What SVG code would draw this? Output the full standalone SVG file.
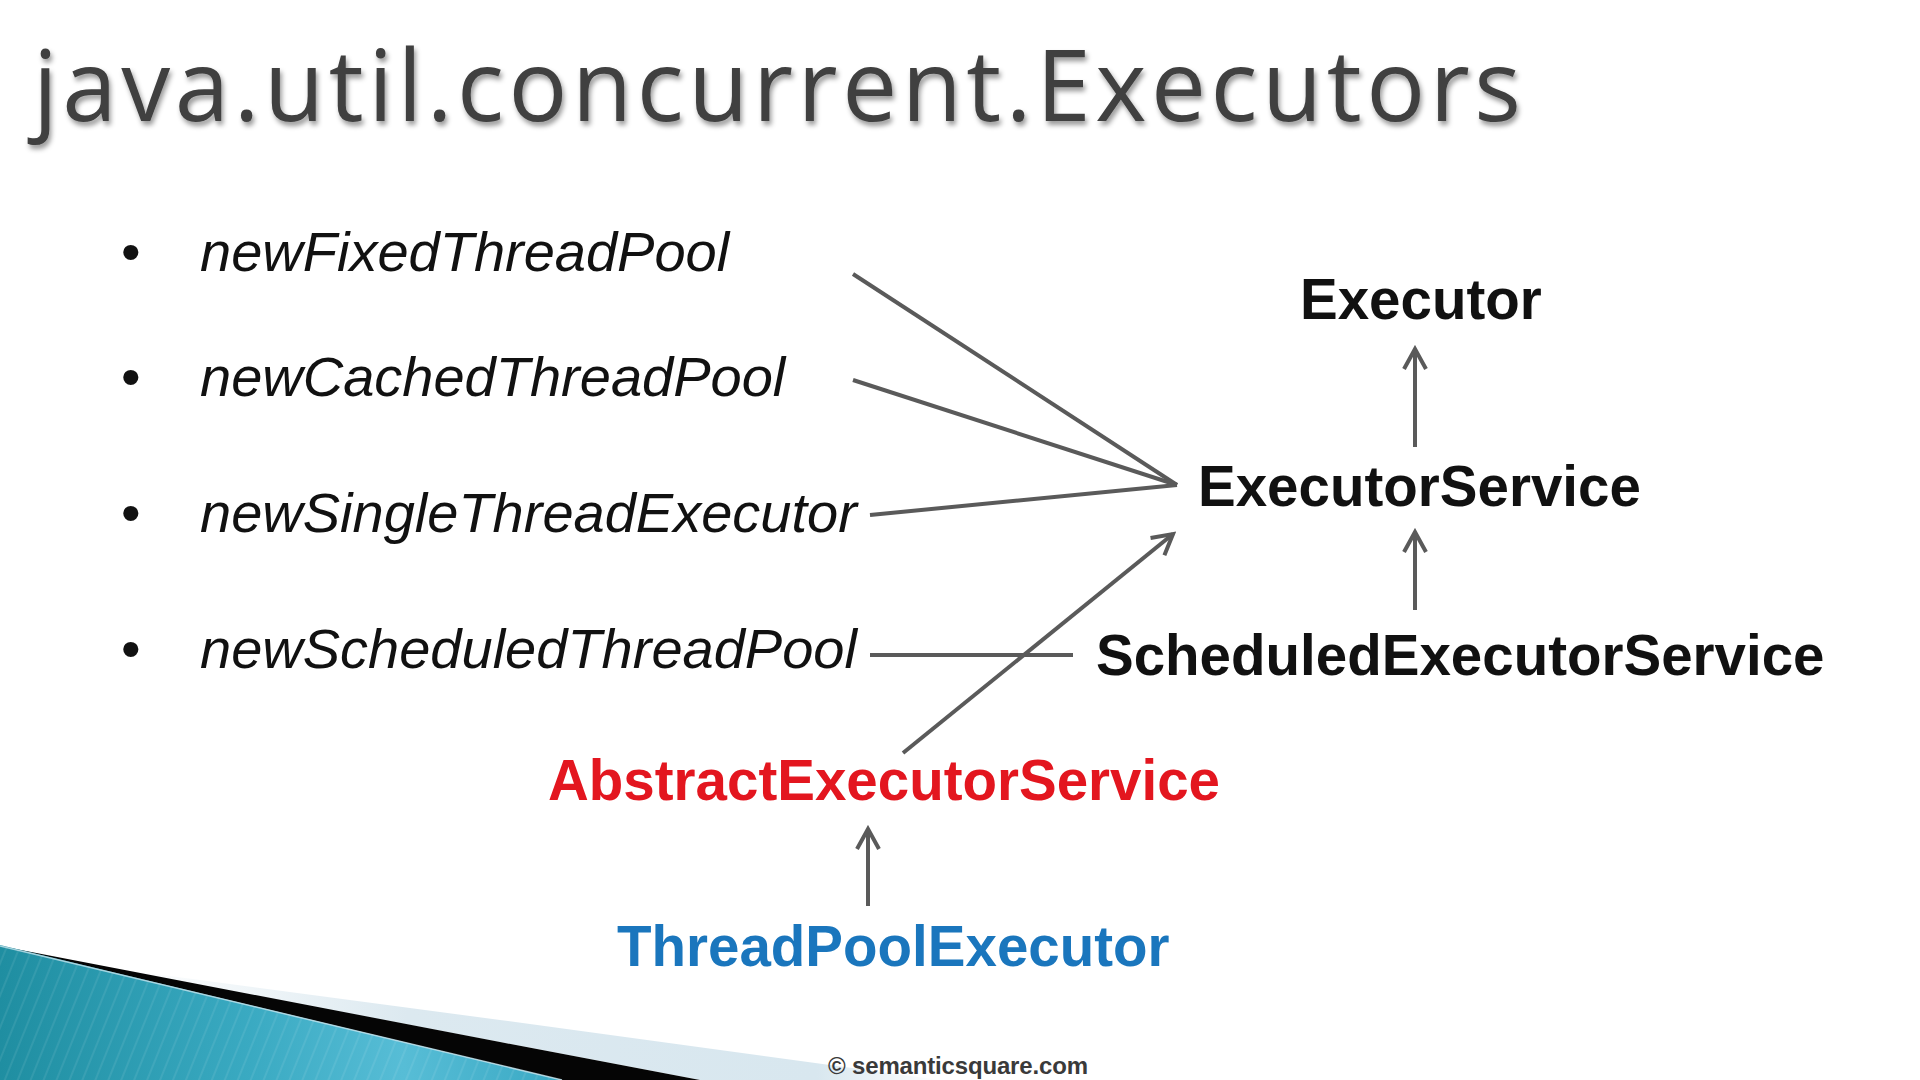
<svg xmlns="http://www.w3.org/2000/svg" width="1920" height="1080" viewBox="0 0 1920 1080">
  <defs>
    <style>
      .title { font-family: "Open Sans", "Noto Sans", "DejaVu Sans", sans-serif; font-size: 98px; fill: #404040; }
      .item { font-family: "Liberation Sans", Arial, sans-serif; font-size: 56px; font-style: italic; fill: #111111; }
      .bullet { font-family: "Liberation Sans", Arial, sans-serif; font-size: 56px; fill: #111111; }
      .cls { font-family: "Liberation Sans", Arial, sans-serif; font-size: 56.5px; font-weight: bold; fill: #111111; }
      .abstract { fill: #e3161f; }
      .impl { fill: #1a76bd; }
      .credit { font-family: "Liberation Sans", Arial, sans-serif; font-size: 24px; font-weight: bold; fill: #3a3a3a; }
      .link { stroke: #5a5a5a; stroke-width: 4; fill: none; }
      .arrow { stroke: #5a5a5a; stroke-width: 4; fill: none; marker-end: url(#openHead); }
    </style>
    <filter id="titleShadow" x="-5%" y="-30%" width="110%" height="160%">
      <feDropShadow dx="2" dy="4" stdDeviation="2.5" flood-color="#000000" flood-opacity="0.4"/>
    </filter>
    <marker id="openHead" markerUnits="userSpaceOnUse" viewBox="-24 -14 28 28" refX="0" refY="0" markerWidth="28" markerHeight="28" orient="auto">
      <path d="M-20,-11 L0,0 L-20,11" stroke="#5a5a5a" stroke-width="4" fill="none" stroke-linejoin="miter"/>
    </marker>
    <linearGradient id="tealFill" x1="0" y1="0" x2="560" y2="0" gradientUnits="userSpaceOnUse">
      <stop offset="0" stop-color="#1f8ea1"/>
      <stop offset="0.45" stop-color="#3aaac2"/>
      <stop offset="0.72" stop-color="#57bdd6"/>
      <stop offset="1" stop-color="#3aa9c4"/>
    </linearGradient>
    <linearGradient id="paleBand" x1="120" y1="0" x2="940" y2="0" gradientUnits="userSpaceOnUse">
      <stop offset="0" stop-color="#ffffff"/>
      <stop offset="0.35" stop-color="#dce9f0"/>
      <stop offset="0.85" stop-color="#d8e7ef"/>
      <stop offset="1" stop-color="#ffffff"/>
    </linearGradient>
    <pattern id="tealStripes" patternUnits="userSpaceOnUse" width="12" height="12" patternTransform="rotate(22)">
      <rect x="0" y="0" width="2" height="12" fill="#ffffff" opacity="0.08"/>
    </pattern>
  </defs>

  <rect x="0" y="0" width="1920" height="1080" fill="#ffffff"/>

  <!-- corner swoosh -->
  <g id="corner">
    <polygon points="110,968 500,1020 940,1080 700,1080" fill="url(#paleBand)"/>
    <polygon points="0,946 500,1042 700,1080 562,1080" fill="#050505"/>
    <polygon points="0,945 562,1080 0,1080" fill="url(#tealFill)"/>
    <polygon points="0,945 562,1080 0,1080" fill="url(#tealStripes)"/>
    <line x1="0" y1="946" x2="562" y2="1080" stroke="#c6e3ec" stroke-width="1.5" opacity="0.8"/>
  </g>

  <!-- heading -->
  <text id="title" class="title" x="33" y="121" textLength="1488" filter="url(#titleShadow)">java.util.concurrent.Executors</text>

  <!-- factory methods -->
  <g id="factory-fixed">
    <text class="bullet" x="121" y="271">•</text>
    <text class="item" x="200" y="271">newFixedThreadPool</text>
  </g>
  <g id="factory-cached">
    <text class="bullet" x="121" y="396">•</text>
    <text class="item" x="200" y="396">newCachedThreadPool</text>
  </g>
  <g id="factory-single">
    <text class="bullet" x="121" y="532">•</text>
    <text class="item" x="200" y="532">newSingleThreadExecutor</text>
  </g>
  <g id="factory-scheduled">
    <text class="bullet" x="121" y="668">•</text>
    <text class="item" x="200" y="668">newScheduledThreadPool</text>
  </g>

  <!-- type hierarchy -->
  <g id="executor">
    <text class="cls" x="1300" y="319">Executor</text>
  </g>
  <g id="executor-service">
    <text class="cls" x="1198" y="506">ExecutorService</text>
  </g>
  <g id="scheduled-executor-service">
    <text class="cls" x="1096" y="675">ScheduledExecutorService</text>
  </g>
  <g id="abstract-executor-service">
    <text class="cls abstract" x="548" y="800">AbstractExecutorService</text>
  </g>
  <g id="thread-pool-executor">
    <text class="cls impl" x="617" y="966">ThreadPoolExecutor</text>
  </g>

  <!-- connectors -->
  <g id="connectors">
    <line class="link" x1="853" y1="274" x2="1177" y2="485"/>
    <line class="link" x1="853" y1="380" x2="1177" y2="485"/>
    <line class="link" x1="870" y1="515" x2="1177" y2="485"/>
    <line class="link" x1="870" y1="655" x2="1073" y2="655"/>
    <line class="arrow" x1="903" y1="753" x2="1173" y2="534"/>
    <line class="arrow" x1="1415" y1="447" x2="1415" y2="349"/>
    <line class="arrow" x1="1415" y1="610" x2="1415" y2="532"/>
    <line class="arrow" x1="868" y1="906" x2="868" y2="829"/>
  </g>

  <text id="credit" class="credit" x="828" y="1074" textLength="260">© semanticsquare.com</text>
</svg>
